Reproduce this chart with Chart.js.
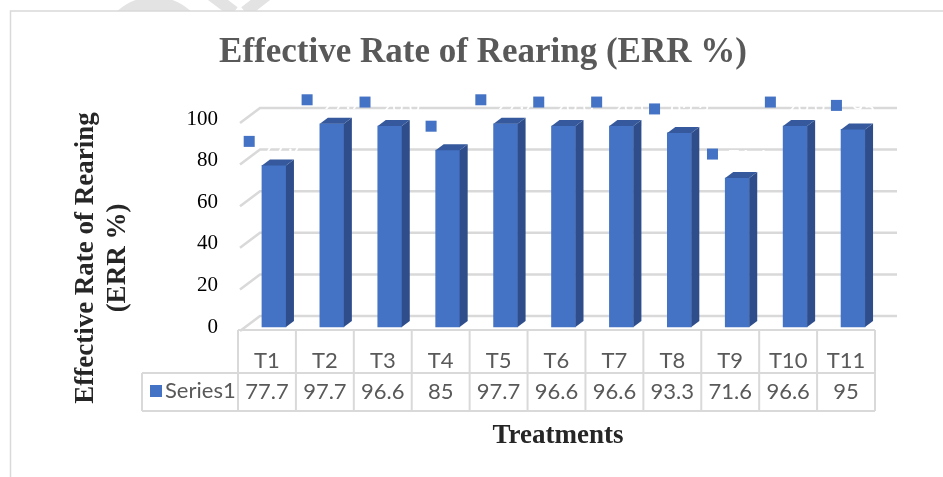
<!DOCTYPE html>
<html>
<head>
<meta charset="utf-8">
<title>Effective Rate of Rearing</title>
<script src="https://cdn.jsdelivr.net/npm/chart.js@4.4.0/dist/chart.umd.min.js"></script>
<style>
  html, body { margin: 0; padding: 0; background: #fff; }
  #wrap { width: 943px; height: 477px; position: relative; overflow: hidden; }
</style>
</head>
<body>
<div id="wrap"><canvas id="myChart" width="943" height="477"></canvas></div>
<script>
const categories = ['T1', 'T2', 'T3', 'T4', 'T5', 'T6', 'T7', 'T8', 'T9', 'T10', 'T11'];
const series1 = [77.7, 97.7, 96.6, 85, 97.7, 96.6, 96.6, 93.3, 71.6, 96.6, 95];
const yTicks = [0, 20, 40, 60, 80, 100];
const seriesName = 'Series1';

const title = 'Effective Rate of Rearing (ERR %)';
const yTitle = ['Effective Rate of Rearing', '(ERR %)'];
const xTitle = 'Treatments';

const blue = '#4472c4';
const sideBlue = '#2e4d8a';
const topBlue = '#35599c';
const gridGrey = '#d9d9d9';
const serif = '"Liberation Serif", "Times New Roman", serif';
const sans = 'Lato, "Open Sans", sans-serif';

// pseudo 3D look of the Excel chart
const look = { shift: 7, dx: 8, dy: 6, wallDx: 20, wallDy: 15, wallRight: 897 };

const excel3d = {
    id: 'excel3d',
    beforeDatasetsDraw(chart) {
        const { ctx, chartArea, scales: { y } } = chart;
        ctx.save();
        ctx.strokeStyle = gridGrey;
        ctx.lineWidth = 2.5;
        yTicks.forEach(v => {
            const py = y.getPixelForValue(v);
            const x0 = chartArea.left + 2;
            ctx.beginPath();
            ctx.moveTo(x0, py + 4);
            ctx.lineTo(x0 + look.wallDx, py + 4 - look.wallDy);
            ctx.lineTo(look.wallRight, py + 4 - look.wallDy);
            ctx.stroke();
        });
        ctx.restore();
        ctx.save();
        ctx.translate(look.shift, 0);
    },
    afterDatasetsDraw(chart) {
        const { ctx } = chart;
        chart.getDatasetMeta(0).data.forEach(bar => {
            const { x, y, base, width } = bar.getProps(['x', 'y', 'base', 'width'], true);
            const l = x - width / 2, r = x + width / 2;
            ctx.fillStyle = sideBlue;
            ctx.beginPath();
            ctx.moveTo(r, y);
            ctx.lineTo(r + look.dx, y - look.dy);
            ctx.lineTo(r + look.dx, base - look.dy);
            ctx.lineTo(r, base);
            ctx.closePath();
            ctx.fill();
            ctx.fillStyle = topBlue;
            ctx.beginPath();
            ctx.moveTo(l, y);
            ctx.lineTo(l + look.dx, y - look.dy);
            ctx.lineTo(r + look.dx, y - look.dy);
            ctx.lineTo(r, y);
            ctx.closePath();
            ctx.fill();
        });
        ctx.restore();
    },
    afterDraw(chart) {
        const { ctx, chartArea, scales: { x } } = chart;
        ctx.save();

        // faint watermark pieces peeking above the frame
        ctx.save();
        ctx.beginPath();
        ctx.rect(0, 0, 943, 11);
        ctx.clip();
        ctx.strokeStyle = 'rgba(200,200,200,0.5)';
        ctx.lineWidth = 16;
        ctx.beginPath();
        ctx.arc(154, 52, 47, 0, Math.PI * 2);
        ctx.stroke();
        ctx.lineWidth = 12;
        ctx.beginPath();
        ctx.moveTo(210, -6); ctx.lineTo(234, 12);
        ctx.moveTo(268, -6); ctx.lineTo(245, 12);
        ctx.stroke();
        ctx.restore();

        // outer frame
        ctx.strokeStyle = '#d9d9d9';
        ctx.lineWidth = 1.5;
        ctx.strokeRect(10.5, 11, 1000, 500);

        // data labels: legend key + white value text
        ctx.font = `20px ${sans}`;
        ctx.textBaseline = 'middle';
        chart.getDatasetMeta(0).data.forEach((bar, i) => {
            const txt = String(series1[i]);
            const w = 11 + 10 + ctx.measureText(txt).width;
            const cx = bar.x + look.shift;
            const left = cx - w / 2;
            const cy = bar.y - 24;
            ctx.fillStyle = blue;
            ctx.fillRect(left, cy - 5.5, 11, 11);
            ctx.fillStyle = '#ffffff';
            ctx.textAlign = 'left';
            ctx.fillText(txt, left + 21, cy + 3);
        });

        // data table
        const colW = (chartArea.right - chartArea.left) / categories.length;
        const top = 330, mid = 373, bottom = 411, keyLeft = 142;
        ctx.strokeStyle = gridGrey;
        ctx.lineWidth = 2;
        ctx.beginPath();
        ctx.moveTo(chartArea.left, top); ctx.lineTo(chartArea.right, top);
        ctx.moveTo(keyLeft, mid); ctx.lineTo(chartArea.right, mid);
        ctx.moveTo(keyLeft, bottom); ctx.lineTo(chartArea.right, bottom);
        ctx.moveTo(keyLeft, mid); ctx.lineTo(keyLeft, bottom);
        for (let i = 0; i <= categories.length; i++) {
            const cx = chartArea.left + i * colW;
            ctx.moveTo(cx, top); ctx.lineTo(cx, bottom);
        }
        ctx.stroke();

        ctx.font = `22px ${sans}`;
        ctx.fillStyle = '#595959';
        ctx.textAlign = 'center';
        categories.forEach((c, i) => {
            const cx = x.getPixelForValue(i);
            ctx.fillText(c, cx, 361);
            ctx.fillText(String(series1[i]), cx, 392);
        });
        ctx.fillStyle = blue;
        ctx.fillRect(150, 385, 12, 12);
        ctx.fillStyle = '#595959';
        ctx.textAlign = 'left';
        ctx.fillText(seriesName, 165, 391);

        // titles
        ctx.textAlign = 'center';
        ctx.fillStyle = '#595959';
        ctx.font = `bold 35px ${serif}`;
        ctx.fillText(title, 483, 53);

        ctx.fillStyle = '#262626';
        ctx.font = `bold 27px ${serif}`;
        ctx.fillText(xTitle, 558, 436);

        ctx.save();
        ctx.translate(86, 258);
        ctx.rotate(-Math.PI / 2);
        ctx.fillText(yTitle[0], 0, 0);
        ctx.fillText(yTitle[1], 0, 32);
        ctx.restore();

        ctx.restore();
    }
};

const ctx = document.getElementById('myChart').getContext('2d');
const chart = new Chart(ctx, {
    type: 'bar',
    data: {
        labels: categories,
        datasets: [{
            label: seriesName,
            data: series1,
            backgroundColor: blue,
            barThickness: 24,
            clip: false
        }]
    },
    options: {
        responsive: false,
        animation: false,
        layout: { padding: { left: 10, right: 68, top: 119, bottom: 150 } },
        plugins: {
            legend: { display: false },
            title: { display: false },
            tooltip: { enabled: false }
        },
        scales: {
            x: { display: false, offset: true },
            y: {
                min: 0,
                max: 100,
                afterFit: scale => { scale.width = 228; },
                afterBuildTicks: scale => { scale.ticks = yTicks.map(v => ({ value: v })); },
                grid: { display: false, drawTicks: false },
                border: { display: false },
                ticks: {
                    padding: 20,
                    color: '#000',
                    font: { family: serif, size: 21 }
                }
            }
        }
    },
    plugins: [excel3d]
});
</script>
</body>
</html>
